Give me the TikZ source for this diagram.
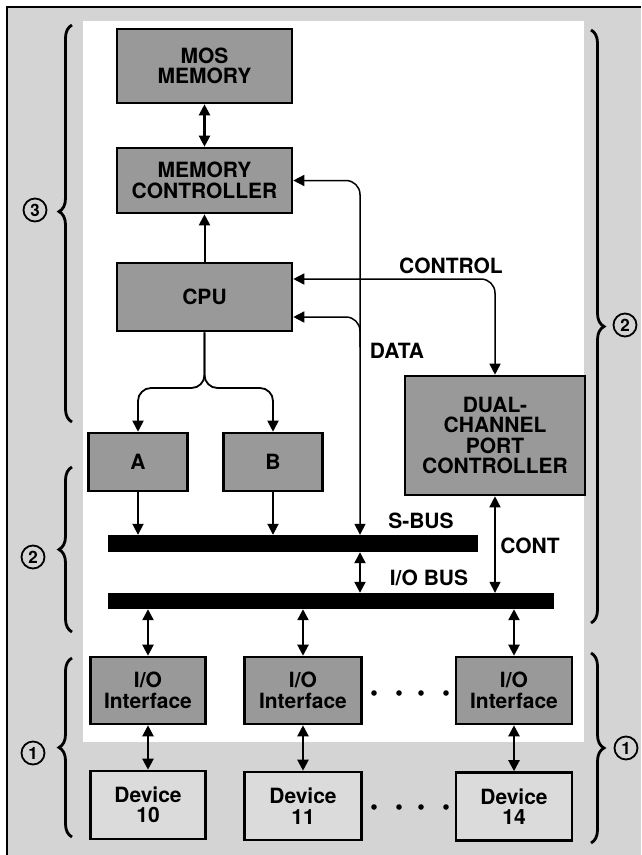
\documentclass[tikz,border=0pt]{standalone}
\usepackage{fontspec}
\setmainfont{TeX Gyre Heros}
\usetikzlibrary{arrows.meta,decorations.pathreplacing,calc}
\definecolor{bggray}{gray}{0.83}
\definecolor{boxgray}{gray}{0.6}
\definecolor{devgray}{gray}{0.86}
\newcommand\boxfont{\bfseries\fontsize{21}{20.5}\selectfont}
\newcommand\numfont{\bfseries\fontsize{17}{17}\selectfont}
\begin{document}
\begin{tikzpicture}[x=1pt,y=-1pt,
  box/.style={draw, line width=2.6pt, fill=boxgray, inner sep=0pt, align=center, font=\boxfont},
  devbox/.style={box, fill=devgray},
  lbl/.style={font=\boxfont},
  bus/.style={fill=black, draw=none, inner sep=0pt},
  arr/.style={line width=1.8pt, -{Triangle[length=11pt,width=11pt]}},
  darr/.style={line width=2.2pt, {Triangle[length=11pt,width=11pt]}-{Triangle[length=11pt,width=11pt]}},
  tdarr/.style={line width=1.5pt, {Triangle[length=11pt,width=11pt]}-{Triangle[length=11pt,width=11pt]}},
  tsarr/.style={line width=1.5pt, {Triangle[length=11pt,width=11pt]}-},
  bracestyle/.style={line width=2.8pt, decorate},
  num/.style={circle, draw, line width=1.8pt, minimum size=23pt, inner sep=0pt, font=\numfont}
]
\useasboundingbox (0,0) rectangle (641,855);
% background
\fill[bggray] (7,7) rectangle (641,855);
\fill[white] (83,21) rectangle (584,742);
\draw[line width=2.6pt] (7,855) -- (7,7) -- (641,7);

% boxes
\node[box, minimum width=175pt, minimum height=74pt] (mos) at (204.5,66) {MOS\\MEMORY};
\node[box, minimum width=175pt, minimum height=65pt] (mc) at (204.5,180.5) {MEMORY\\CONTROLLER};
\node[box, minimum width=175pt, minimum height=68pt] (cpu) at (204.5,297) {CPU};
\node[box, minimum width=99pt, minimum height=58pt] (a) at (138,462) {A};
\node[box, minimum width=99pt, minimum height=58pt] (b) at (273,462) {B};
\node[box, minimum width=180pt, minimum height=119pt] (dual) at (495,435.5) {DUAL-\\CHANNEL\\PORT\\CONTROLLER};
\node[bus, minimum width=370pt, minimum height=17pt] (sbus) at (293,543.5) {};
\node[bus, minimum width=446pt, minimum height=16pt] (iobus) at (331,601) {};
\node[box, minimum width=115pt, minimum height=67pt] (io1) at (148,690.5) {I/O\\Interface};
\node[box, minimum width=117pt, minimum height=67pt] (io2) at (303,690.5) {I/O\\Interface};
\node[box, minimum width=116pt, minimum height=67pt] (io3) at (514,690.5) {I/O\\Interface};
\node[devbox, minimum width=115pt, minimum height=68pt] (dev1) at (148,805) {Device\\10};
\node[devbox, minimum width=117pt, minimum height=68pt] (dev2) at (303,806) {Device\\11};
\node[devbox, minimum width=116pt, minimum height=68pt] (dev3) at (514,806.5) {Device\\14};

% labels
\node[lbl] (lcontrol) at (451,266) {CONTROL};
\node[lbl] (ldata) at (397,351) {DATA};
\node[lbl] (lsbus) at (421,521) {S-BUS};
\node[lbl] (liobus) at (429,578) {I/O BUS};
\node[lbl] (lcont) at (530,546) {CONT};

% connectors
\coordinate (dx) at (360,0);
\coordinate (split) at (204.5,388);
\coordinate (cpuc) at ($(cpu.east)+(0,-18)$);
\coordinate (cpud) at ($(cpu.east)+(0,20)$);
\coordinate (cpun) at (cpu.north);
\draw[darr] (mos.south) -- (mc.north);
\draw[line width=2pt, -{Triangle[length=11pt,width=11pt]}] (cpun) -- (cpun |- mc.south);
\draw[tdarr, rounded corners=14pt] (mc.east) -- (mc.east -| dx) -- (dx |- sbus.north);
\draw[tsarr, rounded corners=14pt] (cpud) -- (cpud -| dx) -- ($(cpud -| dx)+(0,30)$);
\draw[tdarr, rounded corners=14pt] (cpuc) -- (cpuc -| dual.north) -- (dual.north);
\draw[arr, rounded corners=13pt] (cpu.south) -- (split) -- (split -| a.north) -- (a.north);
\draw[arr, rounded corners=13pt] (cpu.south) -- (split) -- (split -| b.north) -- (b.north);
\draw[arr] (a.south) -- (a.south |- sbus.north);
\draw[arr] (b.south) -- (b.south |- sbus.north);
\draw[darr] (dx |- sbus.south) -- (dx |- iobus.north);
\draw[tdarr] (dual.south) -- (dual.south |- iobus.north);
\foreach \k in {1,2,3} {
  \draw[darr] (io\k.north |- iobus.south) -- (io\k.north);
  \draw[darr] (io\k.south) -- (dev\k.north);
}

% dots
\foreach \x in {374,399,421,446} {
  \fill (\x,693) circle (2.8pt);
  \fill (\x,807) circle (2.8pt);
}

% braces
\draw[bracestyle, decoration={brace, amplitude=13pt, aspect=0.53}] (72,422) -- (72,25);
\draw[bracestyle, decoration={brace, amplitude=13pt}] (72,632) -- (72,467);
\draw[bracestyle, decoration={brace, amplitude=13pt}] (72,837) -- (72,658);
\draw[bracestyle, decoration={brace, amplitude=13pt}] (591,30) -- (591,623);
\draw[bracestyle, decoration={brace, amplitude=13pt}] (591,653) -- (591,843);

\node[num] (n3) at (35,210) {3};
\node[num] (n2l) at (33,557) {2};
\node[num] (n1l) at (33,753) {1};
\node[num] (n2r) at (625,325) {2};
\node[num] (n1r) at (626,748) {1};
\end{tikzpicture}
\end{document}
